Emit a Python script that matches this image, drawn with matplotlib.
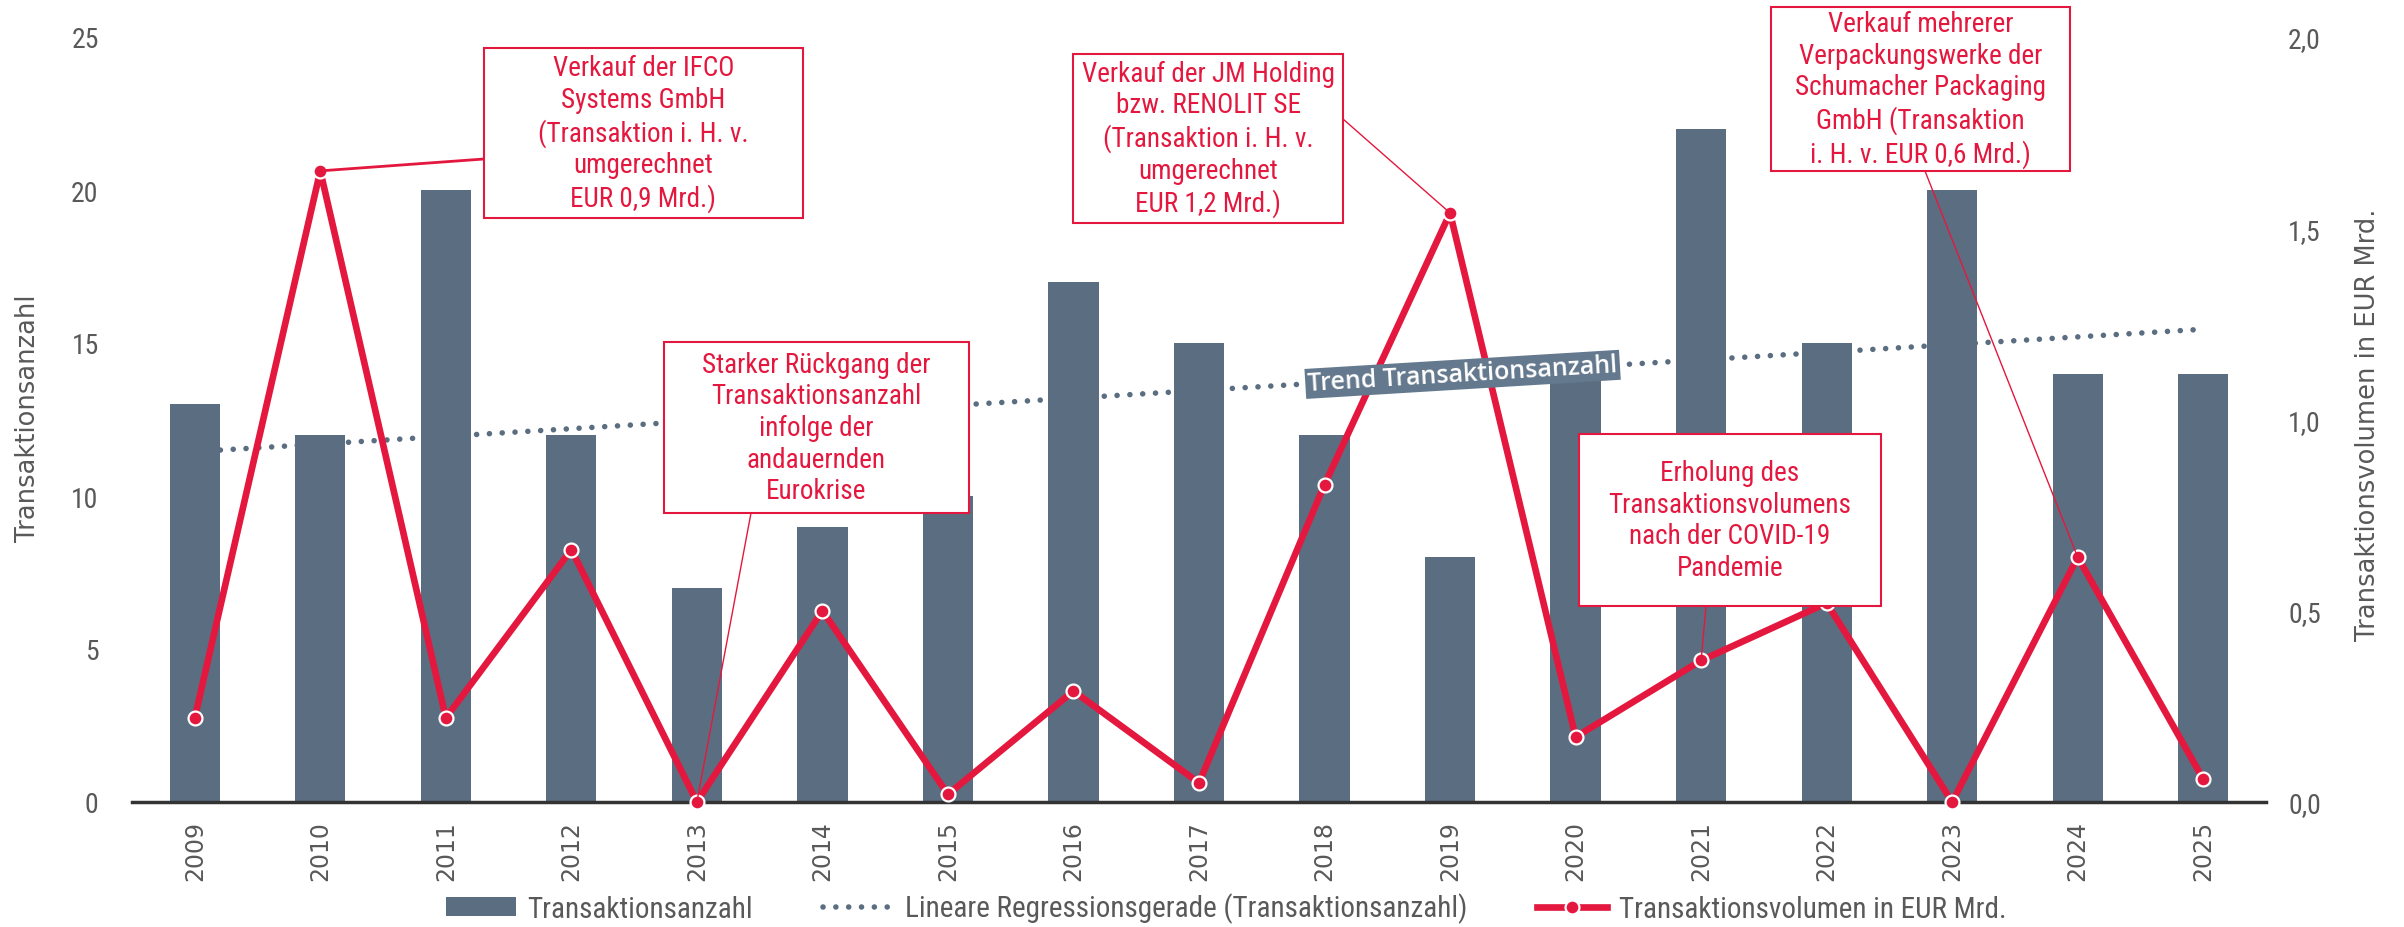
import numpy as np
import matplotlib
matplotlib.use("Agg")
import matplotlib.pyplot as plt
from matplotlib.patches import Rectangle, Patch, ConnectionPatch
from matplotlib.lines import Line2D
from matplotlib import font_manager as fm

# ---------------- data ----------------
years = [str(y) for y in range(2009, 2026)]
deal_count = [13, 12, 20, 12, 7, 9, 10, 17, 15, 12, 8, 14, 22, 15, 20, 14, 14]
deal_volume = [0.22, 1.65, 0.22, 0.66, 0.00, 0.50, 0.02, 0.29, 0.05, 0.83,
               1.54, 0.17, 0.37, 0.52, 0.00, 0.64, 0.06]
trend_start, trend_end = 11.45, 15.45
left_ticks = [0, 5, 10, 15, 20, 25]
right_ticks = [0.0, 0.5, 1.0, 1.5, 2.0]
right_tick_labels = ["0,0", "0,5", "1,0", "1,5", "2,0"]

legend_labels = ["Transaktionsanzahl",
                 "Lineare Regressionsgerade (Transaktionsanzahl)",
                 "Transaktionsvolumen in EUR Mrd."]
left_label = "Transaktionsanzahl"
right_label = "Transaktionsvolumen in EUR Mrd."
trend_label = "Trend Transaktionsanzahl"

note_texts = [
    "Verkauf der IFCO\nSystems GmbH\n(Transaktion i. H. v.\numgerechnet\nEUR 0,9 Mrd.)",
    "Starker Rückgang der\nTransaktionsanzahl\ninfolge der\nandauernden\nEurokrise",
    "Verkauf der JM Holding\nbzw. RENOLIT SE\n(Transaktion i. H. v.\numgerechnet\nEUR 1,2 Mrd.)",
    "Erholung des\nTransaktionsvolumens\nnach der COVID-19\nPandemie",
    "Verkauf mehrerer\nVerpackungswerke der\nSchumacher Packaging\nGmbH (Transaktion\ni. H. v. EUR 0,6 Mrd.)",
]
note_years = ["2010", "2013", "2019", "2021", "2024"]

# ---------------- style ----------------
BAR = "#5b6e81"
RED = "#e4183e"
GREY = "#595959"
W, H = 2404, 928

names = {f.name for f in fm.fontManager.ttflist}
narrow = "DejaVu Sans"
for cand in ["Liberation Sans Narrow", "Roboto Condensed", "Open Sans Condensed",
             "DejaVu Sans Condensed"]:
    if cand in names:
        narrow = cand
        break
humanist = "Open Sans" if "Open Sans" in names else "DejaVu Sans"
plt.rcParams["font.family"] = ["DejaVu Sans"]

fig = plt.figure(figsize=(W / 100, H / 100), dpi=100)
fig.patch.set_facecolor("white")


def fx(px):
    return px / W


def fy(py):
    return 1 - py / H


ax_l, ax_r, ax_t, ax_b = 132, 2266, 38, 803
ax = fig.add_axes([fx(ax_l), fy(ax_b), (ax_r - ax_l) / W, (ax_b - ax_t) / H])
x = np.arange(len(years))

DOT = (0, (0.01, 2.3))
ax.bar(x, deal_count, width=0.4, color=BAR, zorder=2)
ax.plot([x[0], x[-1]], [trend_start, trend_end], color=BAR, lw=4.0,
        linestyle=DOT, dash_capstyle="round", zorder=3)
ax.set_xlim(-0.5, len(years) - 0.5)
ax.set_ylim(0, 25)
ax.set_yticks(left_ticks)
ax.set_xticks(x)
ax.set_xticklabels(years, rotation=90, fontsize=17, color=GREY)
ax.tick_params(axis="x", length=0, pad=13)
ax.tick_params(axis="y", length=0, pad=24, labelsize=20, labelcolor=GREY)
for lab in ax.get_yticklabels():
    lab.set_family([narrow, "DejaVu Sans"])
for s in ["top", "left", "right"]:
    ax.spines[s].set_visible(False)
ax.spines["bottom"].set_color("#333333")
ax.spines["bottom"].set_linewidth(2.5)

ax2 = ax.twinx()
ax2.set_ylim(0, 2.0)
ax2.set_yticks(right_ticks)
ax2.set_yticklabels(right_tick_labels, family=[narrow, "DejaVu Sans"])
ax2.tick_params(axis="y", length=0, pad=16, labelsize=20, labelcolor=GREY)
for s in ["top", "left", "right", "bottom"]:
    ax2.spines[s].set_visible(False)
ax2.plot(x, deal_volume, color=RED, lw=4.8, marker="o", ms=10, mfc=RED,
         mec="white", mew=1.6, zorder=4, clip_on=False)

# trend label on top of the line
p0 = ax.transData.transform((x[0], trend_start))
p1 = ax.transData.transform((x[-1], trend_end))
ang = np.degrees(np.arctan2(p1[1] - p0[1], p1[0] - p0[0]))
tx = 10.1
ty = trend_start + (trend_end - trend_start) * tx / (len(years) - 1)
ax2.text(tx, ty, trend_label, transform=ax.transData, rotation=ang,
         rotation_mode="anchor", ha="center", va="center", color="white",
         fontsize=18, fontweight="semibold", family=[humanist, "DejaVu Sans"],
         zorder=10,
         bbox=dict(boxstyle="square,pad=0.1", fc="#65798e", ec="none"))

fig.text(fx(28), fy(418), left_label, rotation=90, ha="center", va="center",
         fontsize=18.5, color=GREY)
fig.text(fx(2368), fy(425), right_label, rotation=90, ha="center", va="center",
         fontsize=18.5, color=GREY)

# annotation boxes: (left, top, right, bottom) in px, anchor on box (px)
boxes = [
    ((484, 49, 803, 219), (484, 160), 2.0),
    ((664, 343, 969, 514), (751, 514), 1.0),
    ((1073, 55, 1343, 224), (1343, 120), 1.0),
    ((1579, 435, 1881, 607), (1706, 607), 1.0),
    ((1771, 8, 2070, 172), (1925, 172), 1.0),
]
for (l, t, r, b), (axp, ayp), lw_c, txt, yr in zip(
        [bb[0] for bb in boxes], [bb[1] for bb in boxes],
        [bb[2] for bb in boxes], note_texts, note_years):
    i = years.index(yr)
    con = ConnectionPatch(xyA=(fx(axp), fy(ayp)), coordsA="figure fraction",
                          xyB=(i, deal_volume[i]), coordsB=ax2.transData,
                          color=RED, lw=lw_c, shrinkA=0, shrinkB=0, zorder=5)
    fig.add_artist(con)
    rect = Rectangle((fx(l), fy(b)), (r - l) / W, (b - t) / H,
                     transform=fig.transFigure, fc="white", ec=RED, lw=1.5,
                     zorder=6)
    fig.add_artist(rect)
    fig.text(fx((l + r) / 2), fy((t + b) / 2), txt, ha="center", va="center",
             color=RED, fontsize=19.5, linespacing=1.22,
             family=[narrow, "DejaVu Sans"], zorder=7)

handles = [
    Patch(facecolor=BAR, edgecolor="none"),
    Line2D([], [], color=BAR, lw=4.0, linestyle=DOT, dash_capstyle="round"),
    Line2D([], [], color=RED, lw=4.8, marker="o", ms=10, mfc=RED, mec="white",
           mew=1.6),
]
leg = fig.legend(handles, legend_labels, loc="center", ncol=3,
                 bbox_to_anchor=(0.51, fy(909)), frameon=False,
                 prop={"family": [narrow, "DejaVu Sans"], "size": 21},
                 handlelength=2.4, handleheight=0.65, columnspacing=2.4,
                 handletextpad=0.4)
for t in leg.get_texts():
    t.set_color(GREY)

fig.savefig("out.png", dpi=100, facecolor="white")
